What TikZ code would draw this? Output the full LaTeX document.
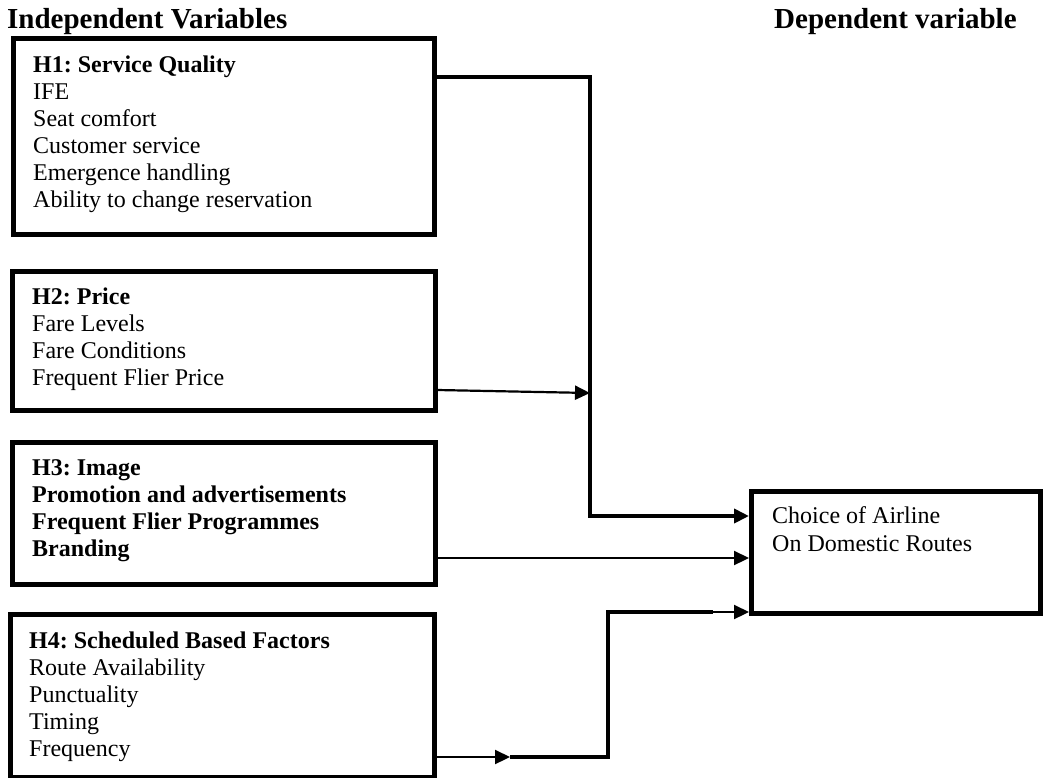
\documentclass[tikz,border=0pt]{standalone}
\usepackage{fontspec}
\setmainfont{Liberation Serif}
\usetikzlibrary{arrows.meta}
\frenchspacing
\begin{document}
\frenchspacing
\begin{tikzpicture}[x=1pt,y=-1pt,
  box/.style={draw, line width=5pt, rectangle, anchor=north west, inner sep=0pt},
  txt/.style={inner sep=0pt, anchor=base west, font=\fontsize{24}{27}\selectfont\frenchspacing},
  ttl/.style={inner sep=0pt, anchor=base west, font=\fontsize{29}{33}\selectfont\bfseries},
  tip/.style={-{Triangle[length=15pt,width=14pt]}},
  thk/.style={line width=4pt},
  thn/.style={line width=2.2pt}]
\useasboundingbox (0,0) rectangle (1044,777);
% titles
\node[ttl] (indep) at (7,28) {Independent Variables};
\node[ttl] (dep) at (774,28) {Dependent variable};
% boxes
\node[box, minimum width=421pt, minimum height=196pt] (h1) at (11,36) {};
\node[box, minimum width=423pt, minimum height=139pt] (h2) at (9.5,269) {};
\node[box, minimum width=423pt, minimum height=142pt] (h3) at (9.5,440) {};
\node[box, minimum width=424pt, minimum height=163pt] (h4) at (8,612) {};
\node[box, minimum width=289pt, minimum height=122pt] (res) at (749,489) {};
% texts
\node[txt] (t1) at (33,72) {\begin{tabular}[t]{@{}l@{}}\textbf{H1: Service Quality}\\IFE\\Seat comfort\\Customer service\\Emergence handling\\Ability to change reservation\end{tabular}};
\node[txt] (t2) at (32,304) {\begin{tabular}[t]{@{}l@{}}\textbf{H2: Price}\\Fare Levels\\Fare Conditions\\Frequent Flier Price\end{tabular}};
\node[txt] (t3) at (32,475) {\begin{tabular}[t]{@{}l@{}}\textbf{H3: Image}\\\textbf{Promotion and advertisements}\\\textbf{Frequent Flier Programmes}\\\textbf{Branding}\end{tabular}};
\node[txt] (t4) at (29,648) {\begin{tabular}[t]{@{}l@{}}\textbf{H4: Scheduled Based Factors}\\Route Availability\\Punctuality\\Timing\\Frequency\end{tabular}};
\node[txt, font=\fontsize{24}{28}\selectfont] (t5) at (772,523) {\begin{tabular}[t]{@{}l@{}}Choice of Airline\\On Domestic Routes\end{tabular}};
% connector coordinates
\coordinate (v1top) at (590,77);
\coordinate (v1bot) at (590,516);
\coordinate (h2a) at (0,390);
\coordinate (h2b) at (590,393);
\coordinate (h3y) at (0,558);
\coordinate (h4y) at (0,757);
\coordinate (m4) at (510,757);
\coordinate (c4a) at (608,757);
\coordinate (c4b) at (608,612);
\coordinate (t4e) at (713,612);
% connectors
\draw[thk, tip] (h1.east |- v1top) -- (v1top) -- (v1bot) -- (res.west |- v1bot);
\draw[thn, tip] (h2.east |- h2a) -- (h2b);
\draw[thn, tip] (h3.east |- h3y) -- (res.west |- h3y);
\draw[thn, tip] (h4.east |- h4y) -- (m4);
\draw[thk, line join=miter] (m4) -- (c4a) -- (c4b) -- (t4e);
\draw[thn, tip] (t4e) -- (res.west |- t4e);
\end{tikzpicture}
\end{document}
